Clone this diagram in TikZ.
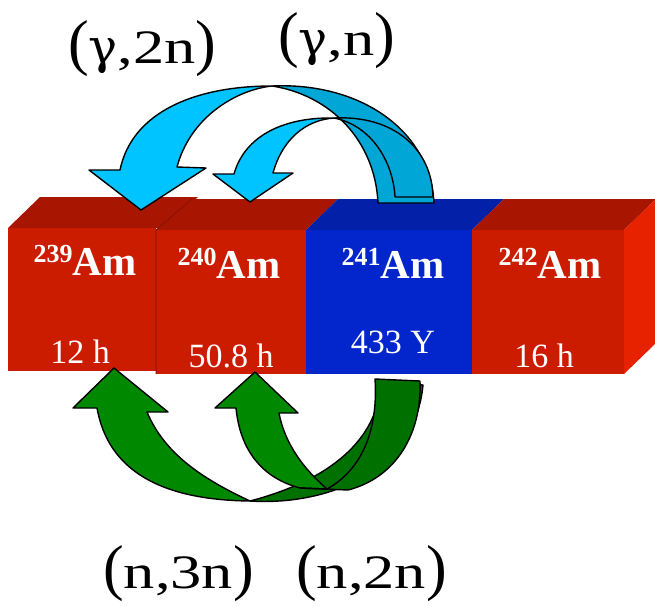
\documentclass[tikz,border=0pt]{standalone}
\usepackage{fontspec}
\setmainfont{Liberation Serif}
\newfontfamily\grk{DejaVu Serif}
\usepackage{graphicx}
\usetikzlibrary{positioning}
\definecolor{frontred}{HTML}{CC1C00}
\definecolor{topred}{HTML}{A81500}
\definecolor{sidered}{HTML}{E62200}
\definecolor{frontblue}{HTML}{0326CC}
\definecolor{topblue}{HTML}{0220A8}
\definecolor{gamlight}{HTML}{00C4FF}
\definecolor{gamdark}{HTML}{00A6D6}
\definecolor{neulight}{HTML}{008800}
\definecolor{neudark}{HTML}{007000}
\newcommand{\massno}[1]{\raisebox{13pt}{\fontsize{26}{26}\selectfont #1}}
\newcommand{\reac}[1]{{\fontsize{62}{62}\selectfont(}\scalebox{1.3}[1]{#1}{\fontsize{62}{62}\selectfont)}}
\newcommand{\gam}{\scalebox{0.78}[1]{\grk γ}}

\begin{document}
\begin{tikzpicture}[x=1pt,y=-1pt,
  face/.style={inner sep=0pt,outer sep=0pt,minimum width=#1,minimum height=144pt},
  iso/.style={text=white,font=\bfseries\fontsize{41}{41}\selectfont,anchor=base,inner sep=0pt},
  half/.style={text=white,font=\fontsize{34}{34}\selectfont,anchor=base,inner sep=0pt},
  rlab/.style={font=\fontsize{48}{48}\selectfont,anchor=base west,inner sep=0pt},
  edge/.style={topred!75!black,line width=0.6pt},
  arr/.style={draw=black,line width=1.4pt,line join=round}]
  \useasboundingbox (0,0) rectangle (655,605);
  \node[face=148pt,minimum height=143pt,fill=frontred,anchor=north west] (am239) at (8,228) {};
  \fill[topred] (am239.north west) -- ++(32,-31) -- ([shift={(42,-31)}]am239.north east) -- ([xshift=8pt]am239.north east) -- cycle;
  \node[face=150pt,fill=frontred,below right=2pt and 0pt of am239.north east,anchor=north west] (am240) {};
  \node[face=166pt,fill=frontblue,right=0pt of am240] (am241) {};
  \node[face=152pt,fill=frontred,right=0pt of am241] (am242) {};
  \fill[topred] (am240.north west) -- ++(36,-31) -- ([shift={(32,-31)}]am240.north east) -- (am240.north east) -- cycle;
  \fill[topblue] (am241.north west) -- ++(32,-31) -- ([shift={(32,-31)}]am241.north east) -- (am241.north east) -- cycle;
  \fill[topred] (am242.north west) -- ++(32,-31) -- ([shift={(32,-31)}]am242.north east) -- (am242.north east) -- cycle;
  \fill[sidered] (am242.north east) -- ++(32,-31) -- ([shift={(32,-31)}]am242.south east) -- (am242.south east) -- cycle;
  \draw[edge] (am240.south west) -- (am240.north west) -- ++(36,-31);
  \path[arr,fill=neulight] (97,408) .. controls (108,470) and (160,500) .. (250,501)
    .. controls (205,480) and (165,455) .. (147,412) -- (168,412) -- (114,368) -- (73,408) -- cycle;
  \path[arr,fill=neudark] (250,501) .. controls (330,506) and (415,470) .. (423,385) -- (381,382)
    .. controls (378,440) and (330,480) .. (250,501) -- cycle;
  \path[arr,fill=neulight] (236,408) .. controls (240,450) and (262,478) .. (300,488) -- (327,489)
    .. controls (305,470) and (285,445) .. (279,413) -- (298,413) -- (255,372) -- (215,408) -- cycle;
  \path[arr,fill=neudark] (300,488) -- (348,490) .. controls (395,478) and (422,435) .. (420,381) -- (375,379)
    .. controls (378,425) and (365,468) .. (327,489) -- cycle;
  \path[arr,fill=gamlight] (120,170) .. controls (132,112) and (195,86) .. (272,86)
    .. controls (235,90) and (190,118) .. (177,167) -- (206,168) -- (141,210) -- (89,170) -- cycle;
  \path[arr,fill=gamdark] (272,86) .. controls (360,82) and (430,130) .. (434,203) -- (378,203)
    .. controls (375,140) and (330,95) .. (272,86) -- cycle;
  \path[arr,fill=gamlight] (234,174) .. controls (245,135) and (285,117) .. (334,118)
    .. controls (305,120) and (282,140) .. (273,173) -- (293,173) -- (250,202) -- (213,174) -- cycle;
  \path[arr,fill=gamdark] (334,118) .. controls (395,115) and (432,150) .. (433,197) -- (395,197)
    .. controls (393,160) and (370,125) .. (334,118) -- cycle;
  \node[iso] (n239) at ([xshift=3pt,yshift=-47pt]am239.north) {\massno{239}Am};
  \node[iso] (n240) at ([xshift=-2pt,yshift=-48pt]am240.north) {\massno{240}Am};
  \node[iso] (n241) at ([xshift=4pt,yshift=-48pt]am241.north) {\massno{241}Am};
  \node[iso] (n242) at ([xshift=2pt,yshift=-48pt]am242.north) {\massno{242}Am};
  \node[half] (t239) at ([xshift=-2pt,yshift=-135pt]am239.north) {12 h};
  \node[half] (t240) at ([yshift=-137pt]am240.north) {50.8 h};
  \node[half] (t241) at ([xshift=4pt,yshift=-123pt]am241.north) {433 Y};
  \node[half] (t242) at ([xshift=-4pt,yshift=-137pt]am242.north) {16 h};
  \node[rlab] (g2n) at (68,63) {\reac{\gam,2n}};
  \node[rlab] (g1n) at (278,55) {\reac{\gam,n}};
  \node[rlab] (n3n) at (103,588) {\reac{n,3n}};
  \node[rlab] (n2n) at (296,588) {\reac{n,2n}};
\end{tikzpicture}
\end{document}
